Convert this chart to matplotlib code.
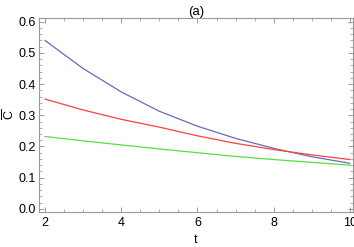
import numpy as np
import matplotlib; matplotlib.use("Agg")
import matplotlib.pyplot as plt
from matplotlib.ticker import MultipleLocator

plt.rcParams.update({"font.family": ["Liberation Sans", "DejaVu Sans"], "font.size": 9,
                     "mathtext.fontset": "custom", "mathtext.rm": "Liberation Sans",
                     "mathtext.it": "Liberation Sans"})

t = [2, 3, 4, 5, 6, 7, 8, 9, 10]
c_blue = [0.540, 0.450, 0.375, 0.313, 0.265, 0.226, 0.194, 0.167, 0.146]
c_red = [0.352, 0.317, 0.287, 0.262, 0.234, 0.210, 0.190, 0.173, 0.158]
c_green = [0.232, 0.218, 0.205, 0.192, 0.180, 0.168, 0.158, 0.149, 0.140]

fig = plt.figure(figsize=(3.54, 2.47), dpi=100)
ax = fig.add_axes([0.110, 0.142, 0.887, 0.785])
ax.plot(t, c_blue, color="#6a6ab8", lw=0.9)
ax.plot(t, c_red, color="#ff4040", lw=0.9)
ax.plot(t, c_green, color="#55e040", lw=0.9)

ax.set_xlim(1.84, 10.08)
ax.set_ylim(-0.01, 0.612)
ax.xaxis.set_major_locator(MultipleLocator(2))
ax.xaxis.set_minor_locator(MultipleLocator(0.5))
ax.yaxis.set_major_locator(MultipleLocator(0.1))
ax.yaxis.set_minor_locator(MultipleLocator(0.02))
ax.yaxis.set_major_formatter(plt.FormatStrFormatter("%.1f"))
ax.tick_params(which="both", direction="in", top=True, right=True, color="0.55", labelsize=9)
ax.tick_params(axis="x", pad=4)
ax.tick_params(axis="y", pad=2)
ax.tick_params(which="major", length=3.5, width=0.6)
ax.tick_params(which="minor", length=2, width=0.5)
for s in ax.spines.values():
    s.set_color("0.6"); s.set_linewidth(0.8)

ax.set_xlabel("t", fontsize=9, labelpad=3)
ax.set_ylabel(r"$\overline{C}$", fontsize=9, labelpad=1)
ax.set_title("(a)", fontsize=9.5, pad=2)
fig.savefig("out.png", dpi=100)
